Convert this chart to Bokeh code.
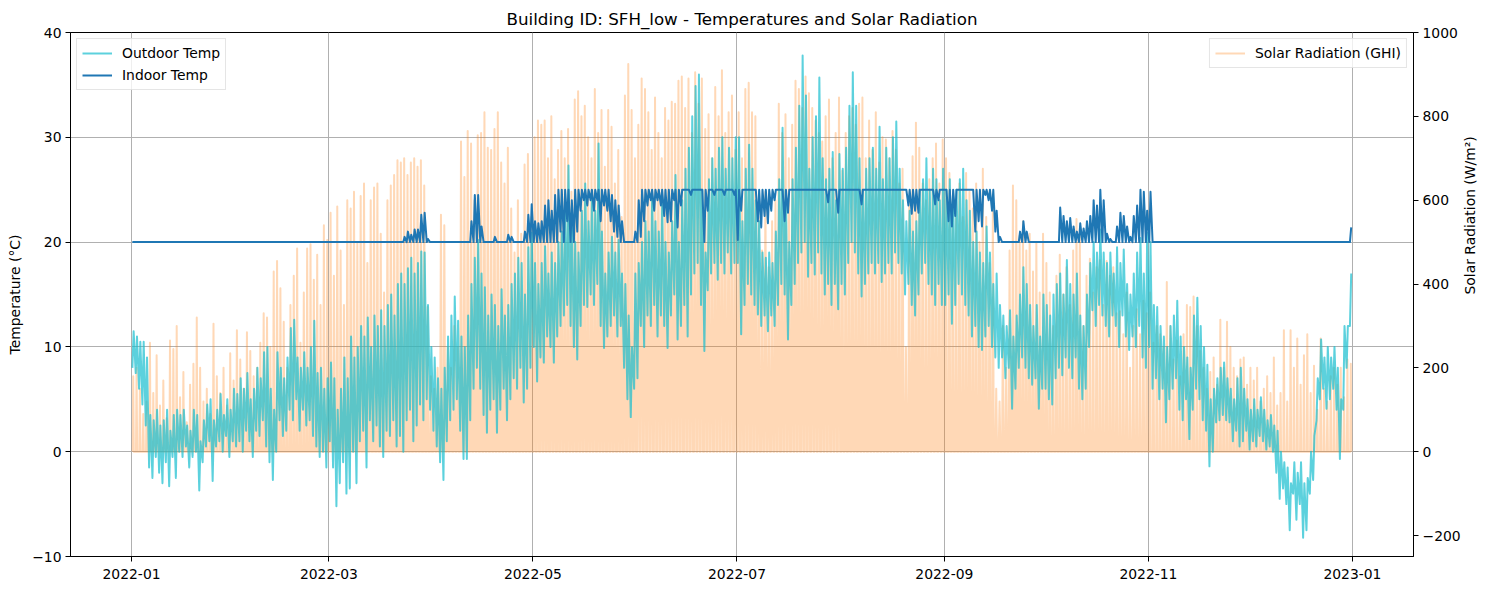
import math
import numpy as np
from bokeh.plotting import figure
from bokeh.models import Range1d, LinearAxis, FixedTicker, Legend, LegendItem
from bokeh.embed import file_html
from bokeh.resources import INLINE

# ---- calendar ------------------------------------------------------------
MONTH_DAYS = [31, 28, 31, 30, 31, 30, 31, 31, 30, 31, 30, 31]
# hours of daylight per month (sunrise -> sunset around solar noon)
DAYLIGHT_HOURS = [8.5, 10.0, 11.8, 13.5, 15.0, 16.0, 15.7, 14.2, 12.5, 10.8, 9.2, 8.2]

TICK_DAYS = [0, 59, 120, 181, 243, 304, 365]
TICK_LABELS = ["2022-01", "2022-03", "2022-05", "2022-07", "2022-09", "2022-11", "2023-01"]
TEMP_TICKS = [-10, 0, 10, 20, 30, 40]
GHI_TICKS = [-200, 0, 200, 400, 600, 800, 1000]

# ---- outdoor temperature, daily low / high (degC) -------------------------
OUT_MIN = [
    8, 7.5, 6, 4.5, 2.5, -1.5, -2.5, -0.5, -2, -3, -1, -3.3, -0.5, -2.5, 0, -0.5, 0.5, -1.5, -0.5, 0, -3.7, -1, 0.5, 1, -2.8, 0.5, 1, 0, 1.5, -0.5, 1,
    0.5, 1, 0, 2, 1, -0.5, 2, 1.5, 3, 0.5, -1, -2.7, 0, 3, 1.5, 2, 4, 3, 5, 2, 4, 2.5, 3, 1.5, 0.5, -0.5, 0, -1.5,
    1, -1.5, -5.2, -3, -1, -4, -3.5, 0, -3, 1, 2, -1.5, 3, 1, 2.5, 0.5, -0.5, 2, 1.5, 3, 0.5, 1.5, 0, 3, 4, 1, 2.5, 4.5, 3, 5, 4,
    2, 0.5, -1, -2.7, 1, 3, 4, 5, 2, -0.7, -0.7, 3, 6, 8, 6, 3.5, 1.8, 4, 5, 1.8, 4, 6, 3, 5, 7, 6, 8, 4.7, 6, 8,
    10, 6.7, 9, 8.5, 11, 10, 8.5, 11, 12, 13, 14, 12, 10, 8.8, 12, 14, 13.8, 15, 14, 16, 12, 9.9, 11, 12, 13, 11, 12, 8, 5, 3.3, 6,
    7, 12, 10, 13, 12, 14, 11, 13, 12, 9.9, 13, 15, 10.7, 12, 14, 11, 15, 17, 18, 14, 9.6, 15.4, 17, 18, 16.4, 18, 17, 19, 17, 18,
    18, 11.2, 14, 16, 15, 14, 13.1, 12, 13, 11.5, 13, 12, 14, 16, 15, 10.7, 14, 16, 18, 19, 20, 16.7, 18, 16.9, 19, 17, 15, 16, 14, 16, 13.6,
    16, 15, 18, 20, 19, 17, 14.8, 16, 17, 18, 17, 18, 16.2, 17, 18, 17, 19, 18, 17, 15, 16, 14, 13, 15, 17, 18, 16, 15, 14, 16, 14,
    14, 15, 12.2, 14, 16, 15, 14, 13, 11, 12, 10, 9.7, 11, 12, 10, 9, 8, 9, 7, 8, 4.1, 6, 8, 9, 8, 7, 6.4, 7, 4.1, 6,
    6, 5, 4.5, 7, 8, 7.3, 9, 8, 7, 9, 6, 5, 6, 10, 13.5, 12, 14, 13, 12, 11, 13, 12, 10, 13, 11, 9.7, 11, 10, 12, 9, 8,
    10, 6, 7, 5, 6, 2.8, 5, 6, 7, 4, 3, 5, 1.2, 4, 6, 5, 3, 2, -1.4, 0, 2.8, 3, 3.5, 3, 2.8, 1, 2, 0.5, 1, 2,
    0.2, 1, 0.5, 1.5, 1, 0.2, 0.5, 0, -2, -4.5, -3.5, -5, -7.5, -4, -6.5, -5, -8.2, -7.5, -4, -2.7, 3, 5, 6, 4.1, 5, 6, 4, -0.7, 4, 8, 12,
]
OUT_MAX = [
    11.5, 11, 10.5, 10.5, 9, 3.5, 3, 4, 2.5, 3, 4, 2, 3.5, 4, 3.5, 4, 2.5, 2, 4, 3.5, 1, 3, 4.5, 5, 3, 4, 5.5, 3.5, 5, 4, 6,
    5.5, 7, 6, 7.5, 5, 6, 8, 7, 9.5, 10, 6, 4, 9.5, 8, 7, 9, 11.8, 12.6, 9, 8, 9.5, 8, 10, 12.5, 7.5, 8, 6, 7,
    8.5, 7, 4, 6, 9, 7, 11, 9, 10, 12, 11, 12.8, 10, 13, 12, 13.5, 12, 14, 15, 13, 16, 17, 16, 17.5, 18.5, 17, 18, 19.1, 19, 14, 10,
    9, 7, 6, 8, 11, 13, 14.8, 12.5, 11, 10, 13, 16, 18.5, 20.2, 17, 15.7, 13, 15, 14, 12, 15.5, 13, 14, 16, 17, 18.5, 18, 15, 19.5, 20.9,
    18, 16, 18, 19.6, 17, 19, 18, 20, 21, 23, 27.3, 22, 20, 19, 23, 25.6, 22, 24, 23, 29.4, 21, 17, 19, 20.5, 19, 20.2, 17, 16, 13, 10, 17,
    18, 20, 22, 21, 24.4, 22, 21, 23.7, 20, 19, 22, 26.4, 20, 24, 27, 29, 32, 34.9, 36, 25, 19, 26, 28, 27, 29, 30, 27, 29, 28, 30,
    30, 22, 27, 29.3, 27, 24, 22, 19, 18.5, 19, 18, 21, 26, 30.9, 24, 20, 26, 29, 33, 37.8, 34, 27, 30, 32, 35.7, 28, 26, 27, 28.6, 24, 28.4,
    27, 29, 33, 36.2, 33, 28, 25, 27, 28, 29, 27, 31, 26, 29, 28, 30, 31.5, 27, 24, 22, 23, 21, 22, 25, 26, 28, 25, 27, 26, 24, 27,
    25, 26, 24, 25, 26, 27, 24, 23, 20, 21, 19, 18, 21.5, 19, 16, 17, 14, 13, 12, 13.5, 11, 13, 15, 17.6, 16, 14, 12, 14, 11, 15,
    14, 13, 15, 16, 17, 15, 18.3, 16, 15, 17, 13, 12, 15, 18, 20, 19, 21.2, 19, 18, 19, 17, 19.5, 18, 19.3, 16, 15, 17, 19, 20.4, 17, 20.9,
    20, 14, 13.8, 12, 11, 10, 12, 13, 14.4, 11, 10, 9, 8, 13, 14.7, 12, 10, 8.3, 5, 6, 7, 8, 8.5, 7, 6, 5, 7, 8, 6, 5,
    4, 5, 4, 5.2, 4, 3, 3.5, 2.5, 2, 0, -1, -1.5, -3, -1, -2, -1, -3, -2.5, 0, 1.5, 7, 10.7, 9, 10, 9, 10, 8, 5, 12, 12, 17,
]

# ---- indoor temperature, daily low / high (degC) --------------------------
IN_MIN = [
    20, 20, 20, 20, 20, 20, 20, 20, 20, 20, 20, 20, 20, 20, 20, 20, 20, 20, 20, 20, 20, 20, 20, 20, 20, 20, 20, 20, 20, 20, 20,
    20, 20, 20, 20, 20, 20, 20, 20, 20, 20, 20, 20, 20, 20, 20, 20, 20, 20, 20, 20, 20, 20, 20, 20, 20, 20, 20, 20,
    20, 20, 20, 20, 20, 20, 20, 20, 20, 20, 20, 20, 20, 20, 20, 20, 20, 20, 20, 20, 20, 20, 20, 20, 20, 20, 20, 20, 20, 20, 20,
    20, 20, 20, 20, 20, 20, 20, 20, 20, 20, 20, 20, 20, 20, 20, 20, 20, 20, 20, 20, 20, 20, 20, 20, 20, 20, 20, 20, 20, 20,
    20, 20, 20, 20, 20, 20, 20, 20, 21, 20, 22, 20, 20, 21, 23, 24, 23.5, 24, 23, 24, 22, 23.5, 23, 22, 21, 20.5, 20, 20, 20, 20, 20,
    20, 20.5, 22, 23.5, 24, 23, 24, 23.5, 22.5, 21.9, 22, 24, 21.4, 23.5, 25, 25, 24.5, 25, 25, 25, 20, 23, 25, 24.5, 25, 25, 24.5, 25, 25, 24.5,
    20.2, 23, 25, 25, 25, 25, 22, 21.4, 22.5, 21.8, 23, 24, 25, 25, 22, 22.8, 25, 25, 25, 25, 25, 25, 25, 25, 25, 25, 25, 23.8, 25, 25, 22.8,
    25, 25, 25, 25, 25, 25, 23.6, 25, 25, 25, 25, 25, 25, 25, 25, 25, 25, 25, 25, 25, 23.5, 22.7, 23, 22.8, 25, 25, 25, 25, 23.6, 24, 25,
    25, 22, 21.5, 22.5, 25, 25, 25, 25, 25, 21, 22, 21.5, 24.5, 24, 23, 21, 20, 20, 20, 20, 20, 20, 20, 20, 20, 20, 20, 20, 20, 20,
    20, 20, 20, 20, 20, 20, 20, 20, 20, 20, 20, 20, 20, 20, 20, 20, 20, 20, 20, 20, 20, 20, 20, 20, 20, 20, 20, 20, 20, 20, 20,
    20, 20, 20, 20, 20, 20, 20, 20, 20, 20, 20, 20, 20, 20, 20, 20, 20, 20, 20, 20, 20, 20, 20, 20, 20, 20, 20, 20, 20, 20,
    20, 20, 20, 20, 20, 20, 20, 20, 20, 20, 20, 20, 20, 20, 20, 20, 20, 20, 20, 20, 20, 20, 20, 20, 20, 20, 20, 20, 20, 20, 20,
]
IN_MAX = [
    20, 20, 20, 20, 20, 20, 20, 20, 20, 20, 20, 20, 20, 20, 20, 20, 20, 20, 20, 20, 20, 20, 20, 20, 20, 20, 20, 20, 20, 20, 20,
    20, 20, 20, 20, 20, 20, 20, 20, 20, 20, 20, 20, 20, 20, 20, 20, 20, 20, 20, 20, 20, 20, 20, 20, 20, 20, 20, 20,
    20, 20, 20, 20, 20, 20, 20, 20, 20, 20, 20, 20, 20, 20, 20, 20, 20, 20, 20, 20, 20, 20, 20.5, 21, 20.7, 21.2, 21.2, 22.6, 22.8, 20.3, 20,
    20, 20, 20, 20, 20, 20, 20, 20, 20, 20, 20, 22, 24.5, 24.5, 21.5, 20, 20, 20, 20.5, 20, 20, 20, 20.7, 20.5, 20, 20, 20, 21, 22.6, 23.6,
    22, 21.8, 22, 23.5, 24, 23, 24.5, 25, 25, 25, 25, 24, 25, 25, 25, 25, 25, 25, 25, 25, 25, 25, 25, 24.5, 24, 23.5, 22, 20, 20, 20, 21,
    24, 25, 25, 25, 25, 25, 25, 25, 25, 25, 25, 25, 25, 25, 25, 25, 25, 25, 25, 25, 25, 25, 25, 25, 25, 25, 25, 25, 25, 25,
    25, 25, 25, 25, 25, 25, 25, 25, 25, 25, 25, 25, 25, 25, 25, 25, 25, 25, 25, 25, 25, 25, 25, 25, 25, 25, 25, 25, 25, 25, 25,
    25, 25, 25, 25, 25, 25, 25, 25, 25, 25, 25, 25, 25, 25, 25, 25, 25, 25, 25, 25, 25, 25, 25, 25, 25, 25, 25, 25, 25, 25, 25,
    25, 25, 25, 25, 25, 25, 25, 25, 25, 25, 25, 25, 25, 25, 25, 23, 20.5, 20, 20, 20, 20, 20, 21, 22, 21, 20, 20, 20, 20, 20,
    20, 20, 20, 20, 23.3, 22.5, 22, 22.3, 21.5, 21, 21.8, 21.3, 22, 22.5, 24, 23.5, 25, 24, 20.8, 20.3, 20, 21.5, 22.8, 22.5, 21.5, 20.5, 22.5, 23.5, 25, 24.8, 23,
    24.8, 20, 20, 20, 20, 20, 20, 20, 20, 20, 20, 20, 20, 20, 20, 20, 20, 20, 20, 20, 20, 20, 20, 20, 20, 20, 20, 20, 20, 20,
    20, 20, 20, 20, 20, 20, 20, 20, 20, 20, 20, 20, 20, 20, 20, 20, 20, 20, 20, 20, 20, 20, 20, 20, 20, 20, 20, 20, 20, 20, 21.4,
]

# ---- global horizontal irradiance, daily noon peak (W/m2) ------------------
GHI_PEAK = [
    180, 200, 150, 90, 120, 260, 140, 230, 110, 170, 80, 265, 245, 300, 130, 190, 70, 160, 210, 320, 200, 120, 150, 90, 305, 180, 140, 200, 110, 235, 170,
    290, 220, 150, 285, 240, 180, 200, 260, 330, 320, 250, 430, 455, 390, 310, 200, 350, 420, 485, 260, 380, 485, 495, 410, 470, 350, 540, 505,
    570, 420, 585, 480, 350, 600, 580, 620, 500, 610, 640, 450, 600, 630, 640, 520, 380, 600, 635, 660, 695, 690, 700, 660, 690, 700, 680, 695, 635, 345, 180,
    150, 200, 565, 540, 250, 200, 300, 250, 740, 655, 765, 735, 600, 755, 760, 810, 725, 720, 770, 810, 690, 640, 725, 580, 475, 600, 520, 685, 710, 560,
    750, 790, 780, 790, 700, 800, 650, 720, 765, 700, 770, 620, 840, 860, 800, 825, 750, 700, 865, 760, 815, 680, 815, 775, 640, 720, 560, 850, 925, 815, 700,
    780, 890, 865, 810, 720, 845, 760, 700, 820, 790, 835, 830, 885, 895, 820, 890, 760, 905, 830, 890, 770, 805, 700, 870, 800, 910, 760, 810, 850, 720,
    810, 700, 865, 880, 810, 800, 560, 480, 620, 440, 550, 600, 830, 760, 805, 700, 780, 885, 865, 820, 895, 855, 820, 790, 760, 740, 800, 840, 700, 760, 845,
    670, 760, 800, 820, 780, 830, 845, 700, 790, 720, 810, 690, 750, 745, 700, 765, 720, 640, 675, 250, 600, 705, 785, 725, 640, 600, 650, 700, 735, 640, 745,
    700, 665, 600, 595, 640, 560, 665, 620, 580, 640, 500, 675, 560, 450, 585, 150, 120, 300, 200, 480, 635, 600, 515, 550, 480, 520, 430, 500, 380, 520,
    450, 380, 300, 420, 470, 375, 440, 350, 480, 555, 520, 300, 420, 460, 380, 440, 457, 350, 455, 420, 440, 330, 335, 280, 380, 200, 300, 340, 280, 360, 330,
    380, 260, 300, 280, 250, 405, 300, 220, 265, 180, 280, 350, 345, 370, 300, 240, 200, 150, 190, 225, 160, 315, 200, 310, 250, 200, 180, 220, 225, 160,
    200, 170, 200, 120, 150, 180, 140, 225, 110, 140, 290, 120, 290, 200, 270, 160, 230, 280, 140, 205, 100, 270, 150, 120, 180, 200, 160, 200, 130, 220, 210,
]

# ---- build plotting paths ---------------------------------------------------
n_days = sum(MONTH_DAYS)
day = np.arange(n_days, dtype=float)
month_idx = np.repeat(np.arange(12), MONTH_DAYS)

# temperatures: low in the early morning, high in the afternoon
t_x = np.column_stack([day + 0.25, day + 0.625]).ravel()
t_out = np.column_stack([OUT_MIN, OUT_MAX]).ravel()
t_in = np.column_stack([IN_MIN, IN_MAX]).ravel()

# irradiance: zero at sunrise, peak at solar noon, zero at sunset
half_day = np.array(DAYLIGHT_HOURS)[month_idx] / 48.0
zeros = np.zeros(n_days)
g_x = np.column_stack([day + 0.5 - half_day, day + 0.5, day + 0.5 + half_day]).ravel()
g_y = np.column_stack([zeros, np.array(GHI_PEAK, dtype=float), zeros]).ravel()

# ---- figure -----------------------------------------------------------------
FONT = "DejaVu Sans"
p = figure(
    width=1489, height=590,
    output_backend="svg", toolbar_location=None,
    x_range=Range1d(-18.25, 383.25), y_range=Range1d(-10, 40),
    min_border_left=70, min_border_right=76, min_border_top=32, min_border_bottom=34,
    title="Building ID: SFH_low - Temperatures and Solar Radiation",
)
p.extra_y_ranges = {"ghi": Range1d(-250, 1000)}

p.title.align = "center"
p.title.text_font = FONT
p.title.text_font_size = "16.7px"
p.title.text_font_style = "normal"
p.title.text_color = "black"
p.title.standoff = 7

p.outline_line_color = "black"
p.outline_line_alpha = 1.0
p.outline_line_width = 1
p.background_fill_color = "white"
p.border_fill_color = "white"

r_ghi = p.line(g_x, g_y, y_range_name="ghi", line_color="#ff7f0e", line_alpha=0.3,
               line_width=2, line_join="round")
r_out = p.line(t_x, t_out, line_color="#17becf", line_alpha=0.7, line_width=2, line_join="round")
r_in = p.line(t_x, t_in, line_color="#1f77b4", line_width=2, line_join="round")

right_axis = LinearAxis(y_range_name="ghi", axis_label="Solar Radiation (W/m²)")
p.add_layout(right_axis, "right")

p.xaxis.ticker = FixedTicker(ticks=TICK_DAYS)
p.xaxis.major_label_overrides = {d: lbl for d, lbl in zip(TICK_DAYS, TICK_LABELS)}
p.yaxis[0].ticker = FixedTicker(ticks=TEMP_TICKS)
p.yaxis[0].major_label_overrides = {t: str(t).replace("-", "\u2212") for t in TEMP_TICKS}
p.yaxis[0].axis_label = "Temperature (°C)"
right_axis.ticker = FixedTicker(ticks=GHI_TICKS)
right_axis.major_label_overrides = {t: str(t).replace("-", "\u2212") for t in GHI_TICKS}

for ax in [p.xaxis[0], p.yaxis[0], right_axis]:
    ax.major_label_text_font = FONT
    ax.major_label_text_font_size = "13.9px"
    ax.major_label_text_color = "black"
    ax.axis_label_text_font = FONT
    ax.axis_label_text_font_size = "13.9px"
    ax.axis_label_text_font_style = "normal"
    ax.axis_label_text_color = "black"
    ax.axis_line_color = "black"
    ax.major_tick_line_color = "black"
    ax.major_tick_out = 5
    ax.major_tick_in = 0
    ax.minor_tick_out = 0
    ax.minor_tick_in = 0
    ax.major_label_standoff = 4
    ax.axis_label_standoff = 6

p.xaxis[0].major_label_standoff = 7
# right-hand label reads bottom-to-top, like the left one
right_axis.axis_label_orientation = math.pi / 2

p.xgrid.ticker = FixedTicker(ticks=TICK_DAYS)
p.ygrid.ticker = FixedTicker(ticks=TEMP_TICKS)
for g in [p.xgrid[0], p.ygrid[0]]:
    g.grid_line_color = "#b0b0b0"
    g.grid_line_width = 1

def style_legend(lg):
    lg.label_text_font = FONT
    lg.label_text_font_size = "13.9px"
    lg.label_text_color = "black"
    lg.glyph_width = 30
    lg.glyph_height = 18
    lg.label_height = 18
    lg.label_standoff = 10
    lg.spacing = 4
    lg.padding = 5
    lg.margin = 6
    lg.border_line_color = "#cccccc"
    lg.border_line_width = 1
    lg.background_fill_color = "white"
    lg.background_fill_alpha = 0.8

legend_left = Legend(items=[LegendItem(label="Outdoor Temp", renderers=[r_out]),
                            LegendItem(label="Indoor Temp", renderers=[r_in])],
                     location="top_left")
legend_right = Legend(items=[LegendItem(label="Solar Radiation (GHI)", renderers=[r_ghi])],
                      location="top_right")
style_legend(legend_left)
style_legend(legend_right)
p.add_layout(legend_left)
p.add_layout(legend_right)

open("out.html", "w").write(file_html(p, INLINE))
